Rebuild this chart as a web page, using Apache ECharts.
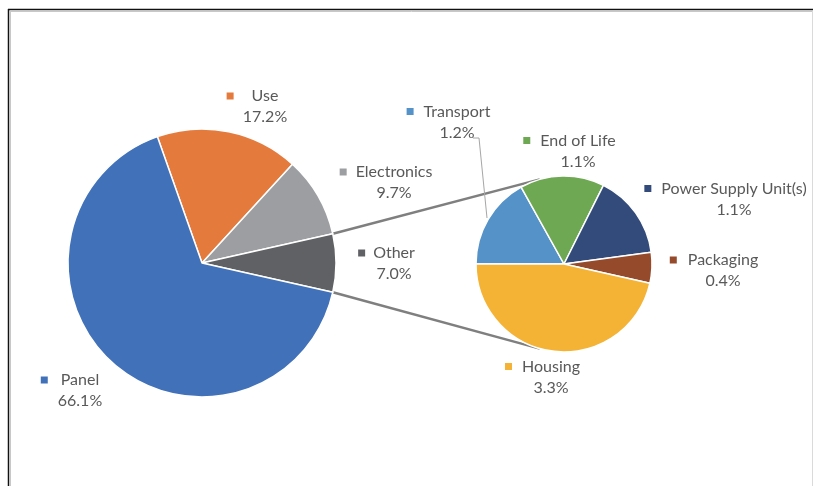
<!DOCTYPE html>
<html>
<head>
<meta charset="utf-8">
<script src="https://cdn.jsdelivr.net/npm/echarts@6/dist/echarts.min.js"></script>
<style>
html,body{margin:0;padding:0;background:#fff;}
#chart{width:813px;height:486px;}
</style>
</head>
<body>
<div id="chart"></div>
<script>
// ---- data ----
var mainNames = ['Use', 'Electronics', 'Other', 'Panel'];
var mainValues = [17.2, 9.7, 7.0, 66.1];
var subNames = ['Transport', 'End of Life', 'Power Supply Unit(s)', 'Packaging', 'Housing'];
var subValues = [1.2, 1.1, 1.1, 0.4, 3.3];

// ---- styles / layout ----
var mainColors = ['#E57A3D', '#9D9EA1', '#606165', '#4171B9'];
var subColors = ['#5592C8', '#6EA852', '#334B7A', '#944A2B', '#F5B335'];
var textColor = '#595959';
var FONT = 'Lato, "Noto Sans", sans-serif';
var FS = 16;
var mainCenter = [202, 263], mainR = 134;
var subCenter = [564, 264], subR = 88;
var labelPos = {
  'Use': [265, 106.5, 18],
  'Electronics': [394, 182.5, 9],
  'Other': [394, 263.5, 8],
  'Panel': [80, 390.5, 13],
  'Transport': [457, 122, 10],
  'End of Life': [578, 151, 10],
  'Power Supply Unit(s)': [734, 199, 10],
  'Packaging': [723, 270.5, 11],
  'Housing': [551, 377, 10]
};

function pct(v) { return v.toFixed(1) + '%'; }

function buildRich(colors) {
  var rich = {
    n: { fontSize: FS, fontFamily: FONT, color: textColor, lineHeight: 21 },
    p: { fontSize: FS, fontFamily: FONT, color: textColor, lineHeight: 21 }
  };
  colors.forEach(function (c, i) {
    rich['s' + i] = { width: 7, height: 7, backgroundColor: c, fontSize: 1, lineHeight: 21 };
  });
  [8, 9, 10, 11, 13, 18].forEach(function (g) {
    rich['g' + g] = { width: g, fontSize: 1, lineHeight: 21 };
    rich['b' + g] = { width: g + 7, fontSize: 1, lineHeight: 21 };
  });
  return rich;
}

function fmt(params) {
  var g = labelPos[params.name][2];
  return '{s' + params.dataIndex + '| }{g' + g + '| }{n|' + params.name + '}{b' + g + '| }\n{p|' + pct(params.value) + '}';
}

var mainTotal = mainValues.reduce(function (a, b) { return a + b; }, 0);
var otherIdx = mainNames.indexOf('Other');
var before = 0;
for (var i = 0; i < otherIdx; i++) before += mainValues[i];
var mainStart = (before + mainValues[otherIdx] / 2) / mainTotal * 360;
var halfOther = mainValues[otherIdx] / 2 / mainTotal * 360;

var mainData = mainNames.map(function (n, i) {
  return { name: n, value: mainValues[i], itemStyle: { color: mainColors[i] } };
});
var subData = subNames.map(function (n, i) {
  var d = { name: n, value: subValues[i], itemStyle: { color: subColors[i] } };
  if (n === 'Transport') d.labelLine = { show: true, lineStyle: { color: '#A6A6A6', width: 1 } };
  return d;
});

function makeLayout(names) {
  return function (params) {
    var n = names[params.dataIndex];
    var p = labelPos[n];
    var res = { x: p[0], y: p[1], align: 'center', verticalAlign: 'middle' };
    if (n === 'Transport') {
      res.labelLinePoints = [[487, 218], [479, 138], [473, 138]];
    }
    return res;
  };
}

function polar(c, r, deg) {
  var a = deg * Math.PI / 180;
  return [c[0] + r * Math.cos(a), c[1] - r * Math.sin(a)];
}

var m1 = polar(mainCenter, mainR, halfOther);
var m2 = polar(mainCenter, mainR, -halfOther);
var s1 = polar(subCenter, subR, 106);
var s2 = polar(subCenter, subR, -106);

var labelCommon = { show: true, formatter: fmt, align: 'center', overflow: 'none', edgeDistance: 0, bleedMargin: 0 };

var chart = echarts.init(document.getElementById('chart'), null, { renderer: 'canvas' });
chart.setOption({
  backgroundColor: '#ffffff',
  animation: false,
  graphic: [
    { type: 'line', shape: { x1: 8, y1: 9.5, x2: 813, y2: 9.5 }, style: { stroke: '#111', lineWidth: 1.5 }, z: 100 },
    { type: 'line', shape: { x1: 8.5, y1: 9, x2: 8.5, y2: 486 }, style: { stroke: '#111', lineWidth: 1.5 }, z: 100 },
    { type: 'line', shape: { x1: 10.5, y1: 11, x2: 10.5, y2: 486 }, style: { stroke: '#C8C8C8', lineWidth: 1 }, z: 100 },
    { type: 'line', shape: { x1: 10, y1: 11.5, x2: 813, y2: 11.5 }, style: { stroke: '#C8C8C8', lineWidth: 1 }, z: 100 },
    { type: 'line', shape: { x1: 812.5, y1: 11, x2: 812.5, y2: 486 }, style: { stroke: '#DADADA', lineWidth: 1 }, z: 100 },
    { type: 'line', shape: { x1: m1[0], y1: m1[1], x2: s1[0], y2: s1[1] }, style: { stroke: '#7F7F7F', lineWidth: 2.5 }, z: 0 },
    { type: 'line', shape: { x1: m2[0], y1: m2[1], x2: s2[0], y2: s2[1] }, style: { stroke: '#7F7F7F', lineWidth: 2.5 }, z: 0 }
  ],
  series: [
    {
      type: 'pie',
      center: mainCenter,
      radius: mainR,
      startAngle: mainStart,
      clockwise: true,
      avoidLabelOverlap: false,
      data: mainData,
      itemStyle: { borderColor: '#fff', borderWidth: 1.5 },
      label: Object.assign({ rich: buildRich(mainColors) }, labelCommon),
      labelLine: { show: false },
      labelLayout: makeLayout(mainNames),
      emphasis: { disabled: true }
    },
    {
      type: 'pie',
      center: subCenter,
      radius: subR,
      startAngle: 180,
      clockwise: true,
      avoidLabelOverlap: false,
      data: subData,
      itemStyle: { borderColor: '#fff', borderWidth: 1.5 },
      label: Object.assign({ rich: buildRich(subColors) }, labelCommon),
      labelLine: { show: false, length: 5, length2: 5 },
      labelLayout: makeLayout(subNames),
      emphasis: { disabled: true }
    }
  ]
});
</script>
</body>
</html>
